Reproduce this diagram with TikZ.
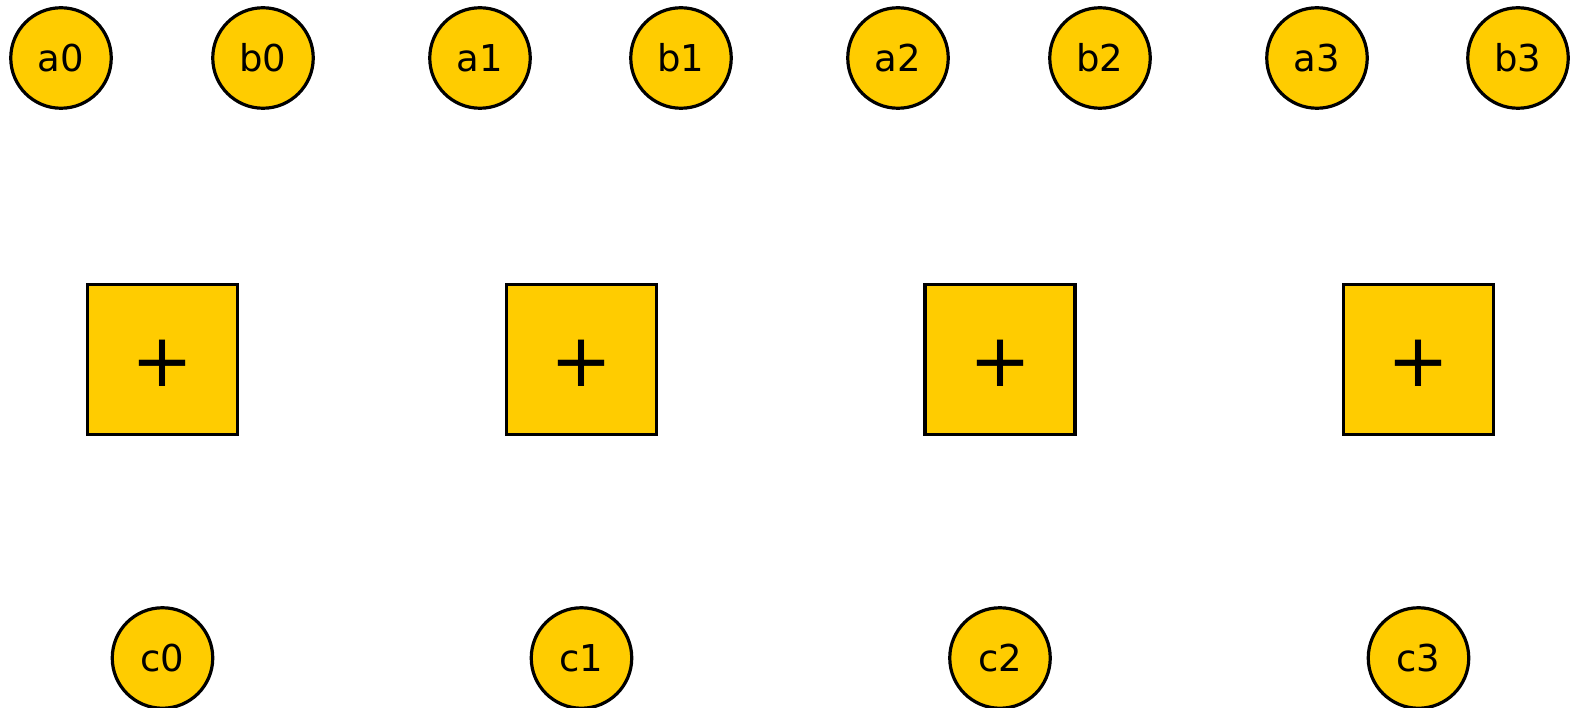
\documentclass[tikz,border=0pt]{standalone}
\usepackage{fontspec}
\setmainfont{DejaVu Sans}
\definecolor{gold}{HTML}{FFCC00}
\begin{document}
\begin{tikzpicture}[x=1pt,y=-1pt,
  io/.style={circle,draw=black,fill=gold,line width=3.2pt,minimum size=100.5pt,inner sep=0pt,font=\fontsize{37}{40}\selectfont},
  adder/.style={rectangle,draw=black,fill=gold,line width=3.2pt,minimum size=150pt,inner sep=0pt,text height=55pt,text depth=0pt,font=\fontsize{74}{76}\selectfont}]
\useasboundingbox (0,0) rectangle (1572,708);
\foreach \i/\ax/\bx/\sx in {0/61/263/162.5, 1/480/681/581.5, 2/898/1100/1000, 3/1317/1518/1418.5}{
  \node[io] (a\i) at (\ax,58) {a\i};
  \node[io] (b\i) at (\bx,58) {b\i};
  \node[adder] (s\i) at (\sx,359.5) {+};
  \node[io] (c\i) at (\sx,658) {c\i};
}
\end{tikzpicture}
\end{document}
